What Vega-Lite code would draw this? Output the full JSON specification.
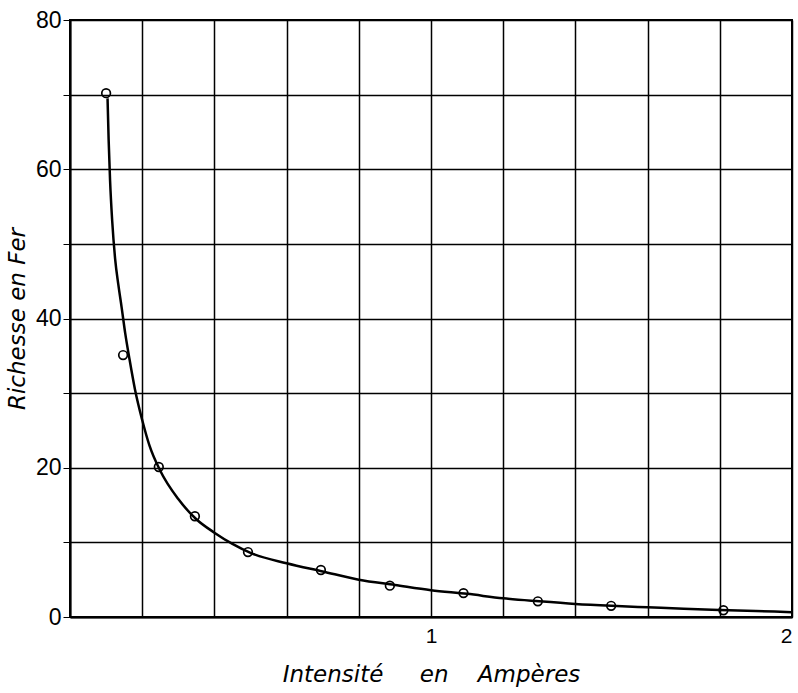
{
  "$schema": "https://vega.github.io/schema/vega-lite/v6.json",
  "width": 722,
  "height": 597,
  "autosize": {"type": "none"},
  "padding": {"left": 70, "top": 20, "right": 6, "bottom": 76},
  "background": "white",
  "config": {
    "view": {"stroke": "black", "strokeWidth": 2},
    "axis": {
      "gridColor": "black",
      "gridOpacity": 1,
      "gridWidth": 1.5,
      "domainColor": "black",
      "domainWidth": 2,
      "tickColor": "black",
      "labelColor": "black",
      "titleColor": "black",
      "labelFont": "Liberation Sans",
      "labelFontSize": 23,
      "titleFont": "DejaVu Sans",
      "titleFontStyle": "italic",
      "titleFontWeight": "normal",
      "titleFontSize": 23
    }
  },
  "datasets": {
    "obs": [
      {"I": 0.10, "R": 70.2},
      {"I": 0.147, "R": 35.1},
      {"I": 0.246, "R": 20.1},
      {"I": 0.346, "R": 13.5},
      {"I": 0.493, "R": 8.7},
      {"I": 0.695, "R": 6.3},
      {"I": 0.886, "R": 4.2},
      {"I": 1.09, "R": 3.2},
      {"I": 1.296, "R": 2.1},
      {"I": 1.499, "R": 1.5},
      {"I": 1.81, "R": 0.9}
    ],
    "curve": [
      {"I": 0.104, "R": 69.5},
      {"I": 0.107, "R": 64},
      {"I": 0.111, "R": 58.5},
      {"I": 0.117, "R": 53},
      {"I": 0.125, "R": 48},
      {"I": 0.134, "R": 44.5},
      {"I": 0.143, "R": 41.5},
      {"I": 0.153, "R": 38},
      {"I": 0.165, "R": 34.5},
      {"I": 0.18, "R": 30.5},
      {"I": 0.20, "R": 26.4},
      {"I": 0.22, "R": 23.0},
      {"I": 0.25, "R": 19.6},
      {"I": 0.30, "R": 15.8},
      {"I": 0.35, "R": 13.1},
      {"I": 0.40, "R": 11.3},
      {"I": 0.45, "R": 9.8},
      {"I": 0.50, "R": 8.6},
      {"I": 0.60, "R": 7.2},
      {"I": 0.70, "R": 6.1},
      {"I": 0.80, "R": 5.0},
      {"I": 0.90, "R": 4.3},
      {"I": 1.00, "R": 3.6},
      {"I": 1.10, "R": 3.1},
      {"I": 1.20, "R": 2.5},
      {"I": 1.30, "R": 2.1},
      {"I": 1.40, "R": 1.75},
      {"I": 1.50, "R": 1.5},
      {"I": 1.60, "R": 1.3},
      {"I": 1.70, "R": 1.1},
      {"I": 1.80, "R": 0.95},
      {"I": 1.90, "R": 0.8},
      {"I": 2.00, "R": 0.65}
    ]
  },
  "layer": [
    {
      "data": {"name": "curve"},
      "mark": {"type": "line", "interpolate": "monotone", "color": "black", "strokeWidth": 2.5, "clip": true},
      "encoding": {
        "x": {
          "field": "I", "type": "quantitative",
          "scale": {"domain": [0, 2], "nice": false, "zero": false},
          "axis": {
            "values": [0, 0.2, 0.4, 0.6, 0.8, 1, 1.2, 1.4, 1.6, 1.8, 2],
            "labelExpr": "datum.value == 1 || datum.value == 2 ? format(datum.value, 'd') : ''",
            "ticks": false,
            "labelPadding": 8,
            "labelFontSize": 21,
            "title": "Intensité\u00a0\u00a0\u00a0\u00a0 en \u00a0\u00a0\u00a0Ampères",
            "titlePadding": 17
          }
        },
        "y": {
          "field": "R", "type": "quantitative",
          "scale": {"domain": [0, 80], "nice": false},
          "axis": {
            "values": [0, 10, 20, 30, 40, 50, 60, 70, 80],
            "labelExpr": "datum.value % 20 == 0 ? datum.label : ''",
            "tickSize": 7,
            "labelPadding": 2,
            "title": "Richesse en Fer",
            "titlePadding": 6
          }
        }
      }
    },
    {
      "data": {"name": "obs"},
      "mark": {"type": "point", "shape": "circle", "filled": false, "color": "black", "strokeWidth": 1.7, "size": 75, "opacity": 1},
      "encoding": {
        "x": {"field": "I", "type": "quantitative"},
        "y": {"field": "R", "type": "quantitative"}
      }
    }
  ]
}
